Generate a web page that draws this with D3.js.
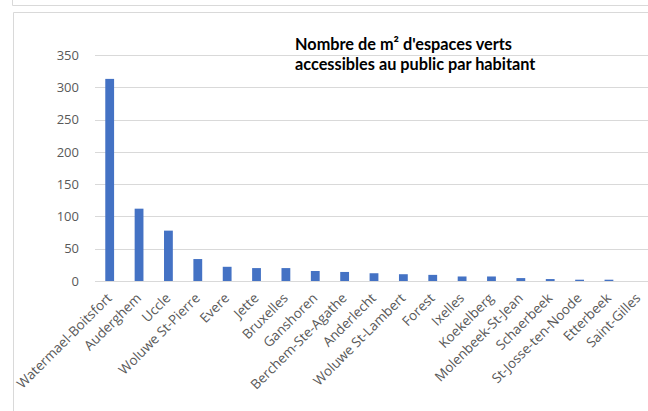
<!DOCTYPE html>
<html>
<head>
<meta charset="utf-8">
<script src="https://cdn.jsdelivr.net/npm/d3@7"></script>
<style>
  body { margin: 0; background: #fff; }
  svg { display: block; }
</style>
</head>
<body>
<svg id="chart" width="648" height="411"></svg>
<script>
// communes, sorted as in the original sheet
const communes = [
    'Watermael-Boitsfort', 'Auderghem', 'Uccle', 'Woluwe St-Pierre', 'Evere',
    'Jette', 'Bruxelles', 'Ganshoren', 'Berchem-Ste-Agathe', 'Anderlecht',
    'Woluwe St-Lambert', 'Forest', 'Ixelles', 'Koekelberg', 'Molenbeek-St-Jean',
    'Schaerbeek', 'St-Josse-ten-Noode', 'Etterbeek', 'Saint-Gilles'
];
// m² of green space per inhabitant
const surfaces = [313, 112, 78, 34, 22, 20, 20, 15.5, 14, 12, 10.5, 9.5, 7, 7, 4.5, 3, 2, 2, 0];
const yTicks = [0, 50, 100, 150, 200, 250, 300, 350];
const titleLines = ["Nombre de m² d'espaces verts", 'accessibles au public par habitant'];

const svg = d3.select('#chart');
const frameColor = '#d9d9d9';
const barColor = '#4472c4';
const labelColor = '#595959';

// window frames (the sheet's boxes)
svg.append('path')
    .attr('d', 'M12.5,0 V5.5 H648')
    .attr('fill', 'none')
    .attr('stroke', frameColor);
svg.append('path')
    .attr('d', 'M13.5,411 V12.5 H648')
    .attr('fill', 'none')
    .attr('stroke', frameColor);

const x = d3.scaleBand()
    .domain(communes)
    .range([95, 653])
    .paddingInner(0.7)
    .paddingOuter(0.35);

const y = d3.scaleLinear()
    .domain([0, 350])
    .range([281, 55]);

// gridlines
svg.append('g')
    .selectAll('line')
    .data(yTicks)
    .join('line')
    .attr('x1', 95)
    .attr('x2', 648)
    .attr('y1', (d) => Math.round(y(d)) + 0.5)
    .attr('y2', (d) => Math.round(y(d)) + 0.5)
    .attr('stroke', frameColor)
    .attr('stroke-width', 1.2);

// y labels
svg.append('g')
    .selectAll('text')
    .data(yTicks)
    .join('text')
    .attr('x', 79)
    .attr('y', (d) => y(d))
    .attr('dy', '0.36em')
    .attr('text-anchor', 'end')
    .attr('font-family', 'Open Sans, sans-serif')
    .attr('font-size', 13)
    .attr('fill', labelColor)
    .text((d) => d);

// bars
svg.append('g')
    .selectAll('rect')
    .data(communes)
    .join('rect')
    .attr('x', (d) => x(d))
    .attr('width', x.bandwidth())
    .attr('y', (d, i) => y(surfaces[i]))
    .attr('height', (d, i) => y(0) - y(surfaces[i]))
    .attr('fill', barColor);

// x labels, rotated
svg.append('g')
    .selectAll('text')
    .data(communes)
    .join('text')
    .attr('transform', (d) => `translate(${x(d) + x.bandwidth() / 2 + 3},${299}) rotate(-45)`)
    .attr('text-anchor', 'end')
    .attr('font-family', 'Open Sans, sans-serif')
    .attr('font-size', 13.5)
    .attr('fill', labelColor)
    .text((d) => d);

// title
svg.append('g')
    .selectAll('text')
    .data(titleLines)
    .join('text')
    .attr('x', 295)
    .attr('y', (d, i) => 50 + i * 20)
    .attr('font-family', 'Lato, sans-serif')
    .attr('font-weight', 'bold')
    .attr('font-size', 16.3)
    .attr('fill', '#000')
    .text((d) => d);
</script>
</body>
</html>
